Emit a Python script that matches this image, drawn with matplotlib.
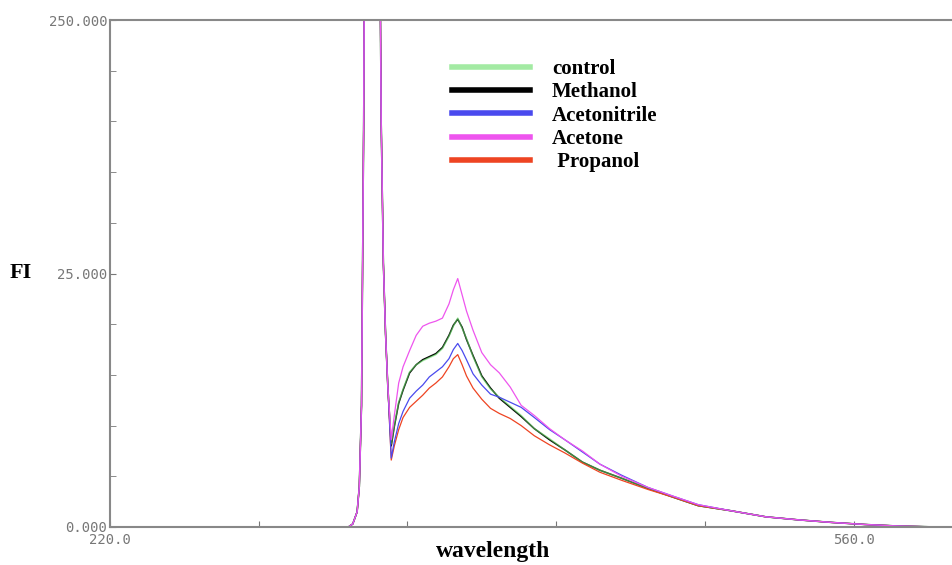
import matplotlib
matplotlib.use('Agg')
import matplotlib.pyplot as plt

# wavelength grid (nm) shared by all spectra
wavelength = [220, 329, 331, 333, 334, 335, 336, 337, 338, 339, 340, 341, 342, 343, 344, 345, 346, 347,
              348.6, 350, 352, 354, 357, 360, 363, 366, 369, 372,
              375, 377, 379, 381, 383, 386, 390, 394, 398, 403,
              408, 414, 421, 428, 436, 444, 454, 466, 478, 489,
              504, 520, 535, 550, 565, 580, 595, 606]

# scatter peak, same for every sample
scatter = [0, 0, 0.3, 1.5, 4, 12, 40, 90, 160, 220, 250, 230, 150, 70, 40, 26, 19, 14]

control = scatter + [8.2, 10.0, 12.3, 13.6, 15.3, 16.0, 16.4, 16.7, 17.0, 17.6,
                     18.8, 19.8, 20.6, 19.6, 18.6, 16.8, 14.8, 13.6, 12.8, 11.9,
                     11.0, 9.7, 8.7, 7.6, 6.4, 5.6, 4.8, 3.8, 2.9, 2.1,
                     1.6, 1.0, 0.7, 0.45, 0.25, 0.1, 0.02, 0]
methanol = scatter + [8.0, 9.9, 12.2, 13.5, 15.2, 16.0, 16.5, 16.8, 17.1, 17.7,
                      18.9, 19.9, 20.5, 19.7, 18.5, 16.9, 14.9, 13.7, 12.7, 11.8,
                      10.9, 9.7, 8.6, 7.6, 6.4, 5.6, 4.8, 3.8, 2.9, 2.1,
                      1.6, 1.0, 0.7, 0.45, 0.25, 0.1, 0.02, 0]
acetonitrile = scatter + [6.8, 8.4, 10.2, 11.4, 12.7, 13.4, 14.0, 14.8, 15.3, 15.8,
                          16.6, 17.5, 18.1, 17.4, 16.5, 15.1, 14.0, 13.1, 12.8, 12.3,
                          11.8, 10.8, 9.6, 8.6, 7.4, 6.2, 5.1, 3.9, 3.0, 2.2,
                          1.6, 1.0, 0.7, 0.45, 0.25, 0.1, 0.02, 0]
acetone = scatter + [8.6, 11.0, 14.2, 15.8, 17.4, 18.9, 19.8, 20.1, 20.3, 20.6,
                     22.0, 23.4, 24.5, 22.9, 21.3, 19.4, 17.2, 16.0, 15.2, 13.8,
                     12.0, 11.0, 9.7, 8.6, 7.5, 6.2, 5.0, 3.9, 3.0, 2.2,
                     1.6, 1.0, 0.7, 0.45, 0.25, 0.1, 0.02, 0]
propanol = scatter + [6.6, 8.0, 9.6, 10.8, 11.8, 12.4, 13.0, 13.7, 14.2, 14.8,
                      15.8, 16.6, 17.0, 16.0, 14.9, 13.7, 12.6, 11.7, 11.2, 10.7,
                      10.0, 9.0, 8.1, 7.3, 6.3, 5.4, 4.6, 3.7, 2.9, 2.1,
                      1.6, 1.0, 0.7, 0.45, 0.25, 0.1, 0.02, 0]

x_ticks = [220, 288, 356, 424, 492, 560]
x_labels = ['220.0', '', '', '', '', '560.0']
y_ticks = [0, 25, 50]
y_labels = ['0.000', '25.000', '250.000']

fig = plt.figure(figsize=(9.52, 5.65), dpi=100)
ax = fig.add_axes([110 / 952, 1 - 527 / 565, 842 / 952, 507 / 565])

ax.plot(wavelength, methanol, color='black', lw=1.1, label='Methanol')
ax.plot(wavelength, control, color='#66dd66', lw=1.1, alpha=0.6, label='control')
ax.plot(wavelength, propanol, color='#ee4422', lw=0.9, label=' Propanol')
ax.plot(wavelength, acetonitrile, color='#4a4aee', lw=0.9, label='Acetonitrile')
ax.plot(wavelength, acetone, color='#ee55ee', lw=0.9, label='Acetone')

ax.set_xlim(220, 605)
ax.set_ylim(0, 50)

ax.set_xticks(x_ticks)
ax.set_xticklabels(x_labels)
ax.set_yticks(y_ticks)
ax.set_yticklabels(y_labels)
ax.set_yticks(range(5, 50, 5), minor=True)

for lbl in ax.get_xticklabels() + ax.get_yticklabels():
    lbl.set_family('DejaVu Sans Mono')
    lbl.set_fontsize(10)
    lbl.set_color('#777777')
ax.tick_params(axis='both', which='both', direction='in', length=4, color='#777777', pad=2)
ax.tick_params(axis='x', pad=4)

for side in ['left', 'bottom', 'top']:
    ax.spines[side].set_color('#888888')
    ax.spines[side].set_linewidth(1.5)
ax.spines['right'].set_visible(False)

# legend in the reference order
handles, labels = ax.get_legend_handles_labels()
order = ['control', 'Methanol', 'Acetonitrile', 'Acetone', ' Propanol']
hmap = dict(zip(labels, handles))
lgd = ax.legend([hmap[k] for k in order], order, loc='upper left',
                bbox_to_anchor=(0.406, 0.923), frameon=False, borderpad=0,
                borderaxespad=0, handlelength=3.75, handletextpad=1.05,
                labelspacing=0.16, prop={'family': 'Liberation Serif', 'weight': 'bold', 'size': 15})
for ln in lgd.get_lines():
    ln.set_linewidth(4)

fig.text(10 / 952, 1 - 273 / 565, 'FI', family='Liberation Serif', weight='bold',
         fontsize=16, va='center', ha='left')
fig.text(493 / 952, 1 - 552 / 565, 'wavelength', family='Liberation Serif', weight='bold',
         fontsize=17, va='center', ha='center')

fig.savefig('out.png', dpi=100)
plt.close(fig)
